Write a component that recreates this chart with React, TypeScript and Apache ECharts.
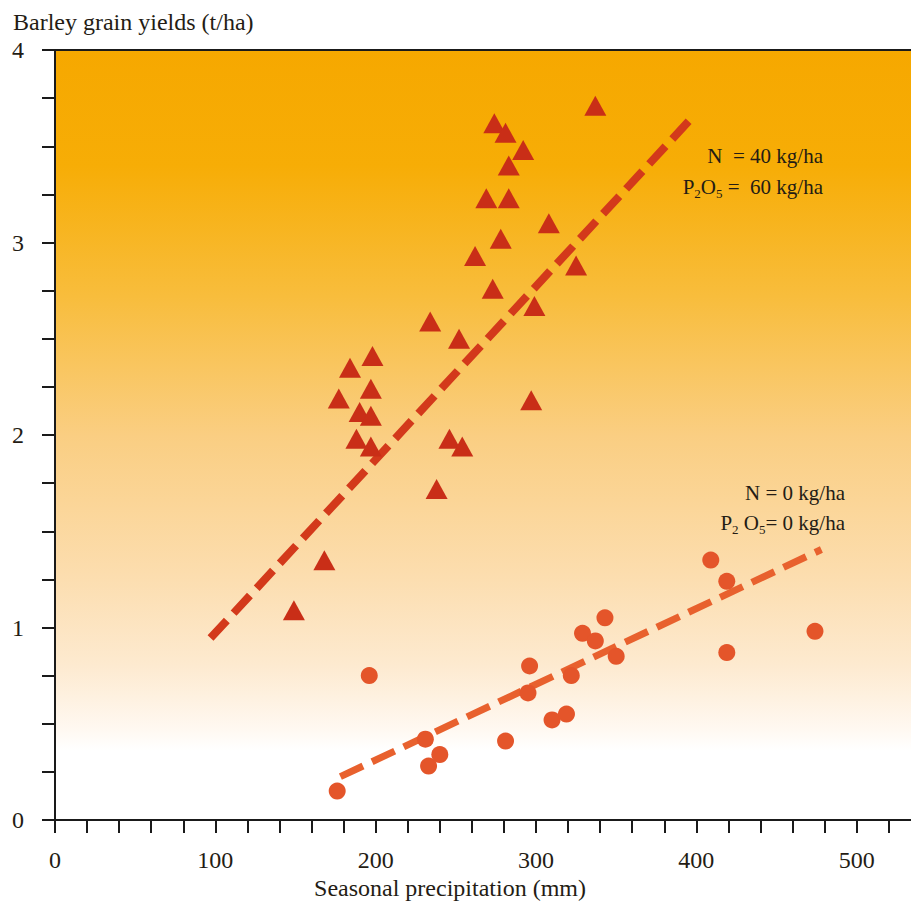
import React, { useEffect, useRef } from "react";
import * as echarts from "echarts";

const fertilisedPoints: number[][] = [
  [337, 3.71], [274, 3.62], [281, 3.57], [292, 3.48], [283, 3.40], [269, 3.23],
  [283, 3.23], [308, 3.10], [278, 3.02], [262, 2.93], [325, 2.88], [273, 2.76],
  [299, 2.67], [234, 2.59], [252, 2.50], [198, 2.41], [184, 2.35], [177, 2.19],
  [197, 2.24], [190, 2.12], [197, 2.10], [188, 1.98], [197, 1.94], [297, 2.18],
  [246, 1.98], [254, 1.94], [238, 1.72], [168, 1.35], [149, 1.09],
];
const unfertilisedPoints: number[][] = [
  [176, 0.15], [196, 0.75], [231, 0.42], [233, 0.28], [240, 0.34], [281, 0.41],
  [295, 0.66], [296, 0.80], [310, 0.52], [319, 0.55], [322, 0.75], [329, 0.97],
  [337, 0.93], [343, 1.05], [350, 0.85], [409, 1.35], [419, 1.24], [419, 0.87],
  [474, 0.98],
];
const fertilisedTrend: number[][] = [[97, 0.945], [398, 3.655]];
const unfertilisedTrend: number[][] = [[178, 0.225], [478, 1.405]];

const xMin = 0;
const xMax = 537;
const xStep = 20;
const xLabelStep = 100;
const yMin = 0;
const yMax = 4;
const yStep = 0.25;

const titleY = "Barley grain yields (t/ha)";
const titleX = "Seasonal precipitation (mm)";
const fertLabel1 = "N  = 40 kg/ha";
const fertLabel2 = " =  60 kg/ha";
const unfertLabel1 = "N = 0 kg/ha";
const unfertLabel2 = "= 0 kg/ha";

const SERIF = "'Liberation Serif', 'Times New Roman', serif";
const INK = "#241c14";

export default function App() {
  const ref = useRef<HTMLDivElement>(null);
  useEffect(() => {
    document.body.style.margin = "0";
    if (!ref.current) return;
    const chart = echarts.init(ref.current, null, { renderer: "svg" });
    const richStyles = {
      n: { fontSize: 21, fontFamily: SERIF, fill: INK, lineHeight: 26 },
      s: { fontSize: 13, fontFamily: SERIF, fill: INK, lineHeight: 12, verticalAlign: "bottom" },
    };
    chart.setOption({
      animation: false,
      grid: {
        left: 55,
        right: -5,
        top: 50,
        bottom: 83,
        containLabel: false,
        outerBoundsMode: "none",
        show: true,
        borderColor: "#1a1a1a",
        borderWidth: 2,
        backgroundColor: {
          type: "linear",
          x: 0, y: 0, x2: 0, y2: 1,
          colorStops: [
            { offset: 0, color: "#F6A800" },
            { offset: 0.15, color: "#F7AD06" },
            { offset: 0.32, color: "#F8BD3C" },
            { offset: 0.5, color: "#FACE82" },
            { offset: 0.68, color: "#FCDDAE" },
            { offset: 0.8, color: "#FDEAD0" },
            { offset: 0.88, color: "#FFF8F0" },
            { offset: 0.91, color: "#FFFFFF" },
            { offset: 1, color: "#FFFFFF" },
          ],
        },
      },
      xAxis: {
        type: "value",
        min: xMin,
        max: xMax,
        interval: xStep,
        axisLine: { show: true, onZero: false, lineStyle: { color: "#1a1a1a", width: 2 } },
        axisTick: { show: true, length: 13, inside: false, lineStyle: { color: "#1a1a1a", width: 2 } },
        splitLine: { show: false },
        axisLabel: {
          margin: 28,
          fontSize: 24,
          fontFamily: SERIF,
          color: INK,
          formatter: (v: number) => (v % xLabelStep === 0 ? String(v) : ""),
        },
      },
      yAxis: {
        type: "value",
        min: yMin,
        max: yMax,
        interval: yStep,
        axisLine: { show: true, onZero: false, lineStyle: { color: "#1a1a1a", width: 2 } },
        axisTick: { show: true, length: 13, inside: false, lineStyle: { color: "#1a1a1a", width: 2 } },
        splitLine: { show: false },
        axisLabel: {
          margin: 31,
          fontSize: 24,
          fontFamily: SERIF,
          color: INK,
          formatter: (v: number) => (Number.isInteger(v) ? String(v) : ""),
        },
      },
      series: [
        {
          type: "line",
          data: fertilisedTrend,
          symbol: "none",
          lineStyle: { color: "#D3391B", width: 8, type: [24, 10], cap: "butt" },
          z: 2,
        },
        {
          type: "line",
          data: unfertilisedTrend,
          symbol: "none",
          lineStyle: { color: "#E8612E", width: 7, type: [25, 10], cap: "butt" },
          z: 2,
        },
        {
          type: "scatter",
          data: fertilisedPoints,
          symbol: "triangle",
          symbolSize: [22, 20],
          itemStyle: { color: "#C92E17", opacity: 1 },
          z: 3,
        },
        {
          type: "scatter",
          data: unfertilisedPoints,
          symbol: "circle",
          symbolSize: 17,
          itemStyle: { color: "#E4552A", opacity: 1 },
          z: 3,
        },
      ],
      graphic: [
        {
          type: "text",
          x: 13,
          y: 22,
          style: { text: titleY, fontSize: 24, fontFamily: SERIF, fill: INK, verticalAlign: "middle", align: "left" },
        },
        {
          type: "text",
          x: 450,
          y: 888,
          style: { text: titleX, fontSize: 24, fontFamily: SERIF, fill: INK, verticalAlign: "middle", align: "center" },
        },
        {
          type: "text",
          x: 823,
          y: 156,
          z: 10,
          style: { text: fertLabel1, fontSize: 21, fontFamily: SERIF, fill: INK, verticalAlign: "middle", align: "right" },
        },
        {
          type: "text",
          x: 823,
          y: 187,
          z: 10,
          style: {
            text: "{n|P}{s|2}{n|O}{s|5}{n|" + fertLabel2 + "}",
            align: "right",
            verticalAlign: "middle",
            rich: richStyles,
          },
        },
        {
          type: "text",
          x: 845,
          y: 493,
          z: 10,
          style: { text: unfertLabel1, fontSize: 21, fontFamily: SERIF, fill: INK, verticalAlign: "middle", align: "right" },
        },
        {
          type: "text",
          x: 845,
          y: 523,
          z: 10,
          style: {
            text: "{n|P}{s|2}{n| O}{s|5}{n|" + unfertLabel2 + "}",
            align: "right",
            verticalAlign: "middle",
            rich: richStyles,
          },
        },
      ],
    });
    return () => chart.dispose();
  }, []);
  return <div ref={ref} style={{ width: 911, height: 903 }} />;
}
